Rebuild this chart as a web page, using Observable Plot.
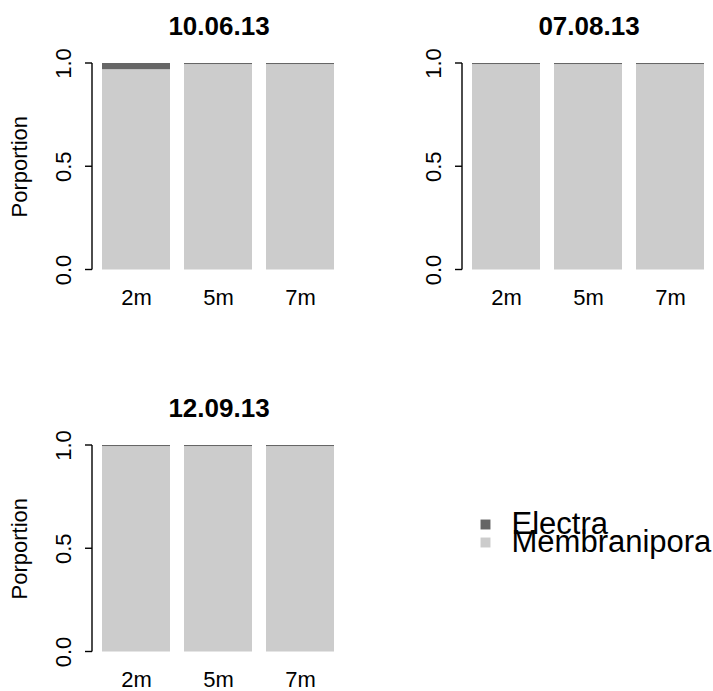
<!DOCTYPE html>
<html>
<head>
<meta charset="utf-8">
<script src="https://cdn.jsdelivr.net/npm/d3@7"></script>
<script src="https://cdn.jsdelivr.net/npm/@observablehq/plot@0.6"></script>
<style>
  html, body { margin: 0; padding: 0; background: #fff; }
  #wrap { position: relative; width: 713px; height: 691px; overflow: hidden; background: #fff; }
  .panel { position: absolute; }
</style>
</head>
<body>
<div id="wrap"></div>
<script>
// ---- data ----
const dates = ["10.06.13", "07.08.13", "12.09.13"];
const depths = ["2m", "5m", "7m"];
const species = ["Electra", "Membranipora"];
const speciesColors = ["#666666", "#cccccc"];
// Electra proportion per date (rows) and depth (columns)
const electraShare = [
  [0.03, 0.005, 0.005],
  [0.005, 0.005, 0.005],
  [0.005, 0.005, 0.005]
];
const yTicks = [0, 0.5, 1];
const yLabel = "Porportion";

const FONT = "'Liberation Sans', Arial, Helvetica, sans-serif";
const BASE = 22;
const wrap = document.getElementById("wrap");

// panel placement: [left, top, showYLabel]
const placement = [[0, 0, true], [370, 0, false], [0, 382, true]];

dates.forEach((date, di) => {
  const rows = [];
  depths.forEach((depth, j) => {
    const e = electraShare[di][j];
    rows.push({depth, species: "Membranipora", value: 1 - e});
    rows.push({depth, species: "Electra", value: e});
  });
  const [left, top, showLabel] = placement[di];
  const marks = [
    Plot.barY(rows, {x: "depth", y: "value", fill: "species"}),
    Plot.text(yTicks, {y: d => d, text: d => d.toFixed(1), frameAnchor: "left", dx: -38,
      rotate: -90, textAnchor: "middle", lineAnchor: "middle", fontSize: BASE, fill: "#000"}),
    Plot.text(depths, {x: d => d, text: d => d, frameAnchor: "bottom", dy: 28,
      lineAnchor: "middle", fontSize: BASE, fill: "#000"}),
    Plot.text([date], {text: d => d, frameAnchor: "top", dy: -37, lineAnchor: "middle",
      fontSize: 26, fontWeight: "bold", fill: "#000"})
  ];
  if (showLabel) {
    marks.push(Plot.text([yLabel], {text: d => d, frameAnchor: "left", dx: -82, rotate: -90,
      textAnchor: "middle", lineAnchor: "middle", fontSize: BASE, fill: "#000"}));
  }
  const chart = Plot.plot({
    width: 343,
    height: 309,
    marginLeft: 101,
    marginRight: 7,
    marginTop: 63,
    marginBottom: 39.5,
    style: {fontFamily: FONT, background: "transparent", overflow: "visible"},
    x: {domain: depths, paddingInner: 0.1667, paddingOuter: 0, axis: null},
    y: {domain: [0, 1], axis: null},
    color: {domain: species, range: speciesColors},
    marks
  });
  // R-style axis: vertical line with outward ticks, offset left of the bars
  const xs = chart.scale("x"), ys = chart.scale("y");
  const axisX = xs.range[0] - 9;
  const svg = d3.select(chart);
  const g = svg.append("g").attr("stroke", "#000").attr("stroke-width", 1.4).attr("fill", "none");
  g.append("line").attr("x1", axisX).attr("x2", axisX)
    .attr("y1", ys.apply(0)).attr("y2", ys.apply(1));
  yTicks.forEach(t => {
    g.append("line").attr("x1", axisX - 7).attr("x2", axisX)
      .attr("y1", ys.apply(t)).attr("y2", ys.apply(t));
  });
  chart.classList.add("panel");
  chart.style.left = left + "px";
  chart.style.top = top + "px";
  wrap.appendChild(chart);
});

// legend
const legend = Plot.plot({
  width: 258,
  height: 70,
  marginLeft: 30,
  marginRight: 0,
  marginTop: 0,
  marginBottom: 0,
  style: {fontFamily: FONT, background: "transparent", overflow: "visible"},
  x: {axis: null},
  y: {type: "point", domain: species, range: [24, 42], padding: 0, axis: null},
  color: {domain: species, range: speciesColors},
  marks: [
    Plot.dot(species, {y: d => d, fill: d => d, symbol: "square", r: 5.6, frameAnchor: "left"}),
    Plot.text(species, {y: d => d, text: d => d, frameAnchor: "left", dx: 26, textAnchor: "start",
      lineAnchor: "middle", fontSize: 31, fill: "#000"})
  ]
});
legend.classList.add("panel");
legend.style.left = "455px";
legend.style.top = "500px";
wrap.appendChild(legend);
</script>
</body>
</html>
